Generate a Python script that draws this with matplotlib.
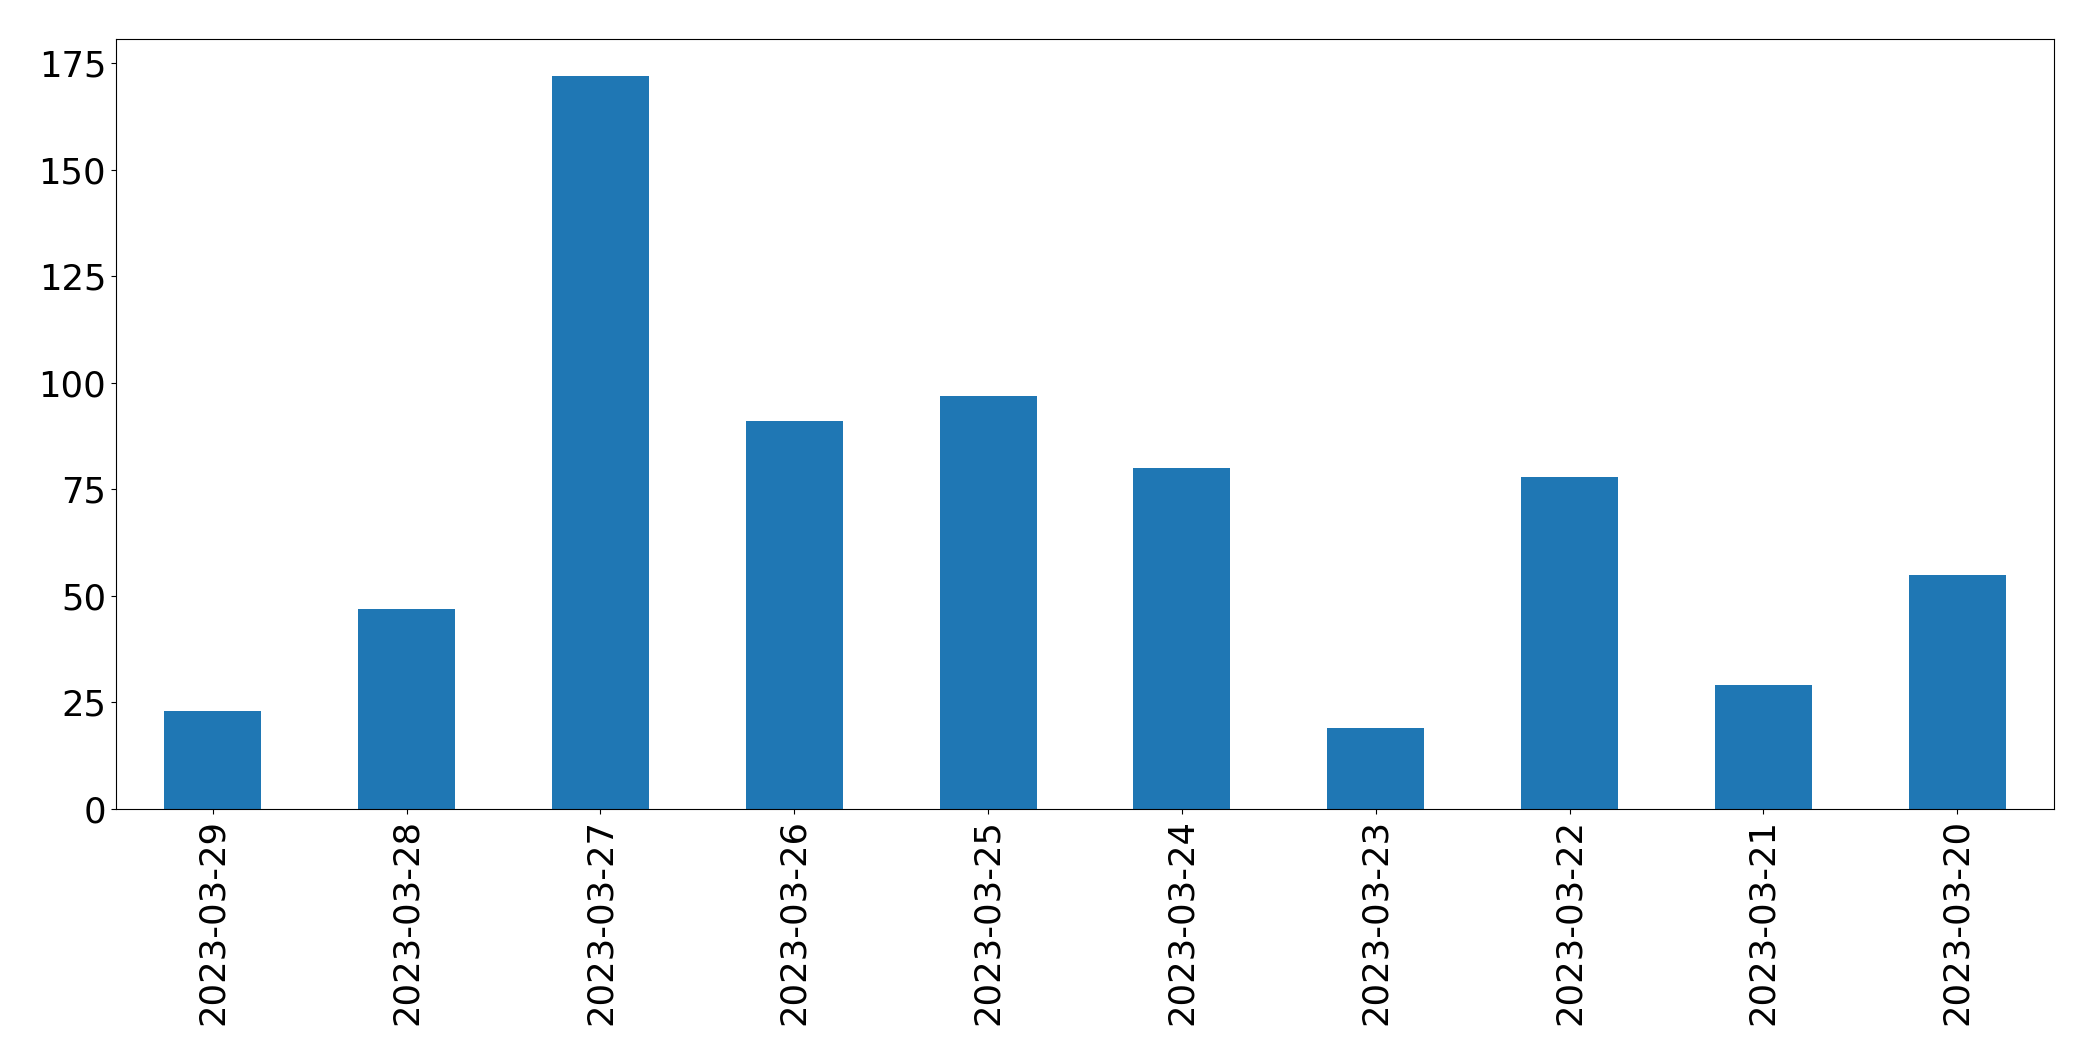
import matplotlib
matplotlib.use("Agg")
import matplotlib.pyplot as plt

# dates in the order shown (newest first)
dates = ["2023-03-29", "2023-03-28", "2023-03-27", "2023-03-26", "2023-03-25",
         "2023-03-24", "2023-03-23", "2023-03-22", "2023-03-21", "2023-03-20"]
counts = [23, 47, 172, 91, 97, 80, 19, 78, 29, 55]

fig, ax = plt.subplots(figsize=(20.93, 10.61), dpi=100)
fig.subplots_adjust(left=0.0554, right=0.9814, top=0.9628, bottom=0.2375)

positions = list(range(len(dates)))
ax.bar(positions, counts, width=0.5, color="#1f77b4")

# pandas-style category axis
ax.set_xlim(-0.5, len(dates) - 0.5)
ax.set_xticks(positions)
ax.set_xticklabels(dates, rotation=90)
ax.tick_params(axis="both", which="major", labelsize=25.5)

plt.savefig("out.png", dpi=100)
